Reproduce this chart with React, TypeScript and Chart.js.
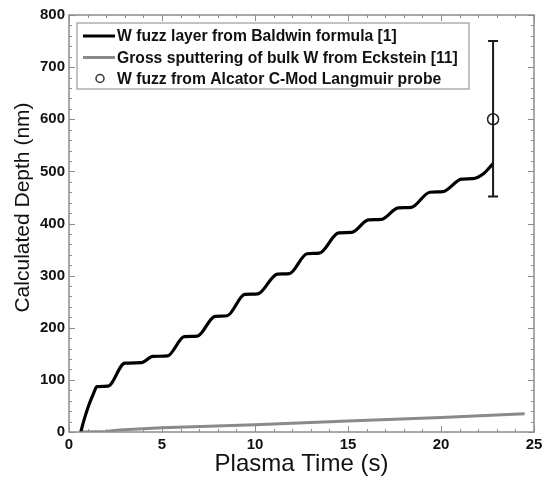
import React, { useEffect, useRef } from "react";
import { Chart, registerables } from "chart.js";

Chart.register(...registerables);

// ---- Data ----
const fuzzX = [0.63, 0.85, 1.05, 1.3, 1.5, 2.1, 3.0, 3.9, 4.5, 5.3, 6.2, 6.9, 7.85, 8.5, 9.45, 10.15, 11.2, 11.85, 12.8, 13.45, 14.5, 15.2, 16.1, 16.8, 17.7, 18.4, 19.4, 20.1, 21.1, 21.7, 22.3, 22.8];
const fuzzY = [0, 28, 50, 72, 87, 88, 132, 133, 145, 146, 183, 184, 222, 223, 264, 265, 303, 304, 342, 343, 382, 383, 407, 408, 430, 431, 460, 461, 485, 486, 496, 515];

const sputX = [0.6, 2.0, 2.7, 5, 10, 15, 20, 24.5];
const sputY = [0, 1, 4, 8, 14, 21, 28, 35];

const probeX = [22.8];
const probeY = [600];
const probeLow = [452];
const probeHigh = [750];

const seriesLabels = [
  "W fuzz layer from Baldwin formula [1]",
  "Gross sputtering of bulk W from Eckstein [11]",
  "W fuzz from Alcator C-Mod Langmuir probe",
];

const xTitle = "Plasma Time (s)";
const yTitle = "Calculated Depth (nm)";

const xTickValues = [0, 5, 10, 15, 20, 25];
const yTickValues = [0, 100, 200, 300, 400, 500, 600, 700, 800];
const xMinorStep = 1;
const yMinorStep = 20;

const FONT = "Liberation Sans, Arial, Helvetica, sans-serif";
const FRAME = "#8c8c8c";

const framePlugin = {
  id: "framePlugin",
  afterDatasetsDraw(chart: any) {
    const { ctx, chartArea: ca, scales } = chart;
    const xs = scales.x;
    const ys = scales.y;
    ctx.save();
    // error bars
    ctx.strokeStyle = "#1a1a1a";
    ctx.lineWidth = 2;
    for (let i = 0; i < probeX.length; i++) {
      const px = xs.getPixelForValue(probeX[i]);
      const lo = ys.getPixelForValue(probeLow[i]);
      const hi = ys.getPixelForValue(probeHigh[i]);
      ctx.beginPath();
      ctx.moveTo(px, lo);
      ctx.lineTo(px, hi);
      ctx.moveTo(px - 5, lo);
      ctx.lineTo(px + 5, lo);
      ctx.moveTo(px - 5, hi);
      ctx.lineTo(px + 5, hi);
      ctx.stroke();
    }
    // frame
    ctx.strokeStyle = FRAME;
    ctx.lineWidth = 1.5;
    ctx.strokeRect(ca.left, ca.top, ca.right - ca.left, ca.bottom - ca.top);
    ctx.lineWidth = 1;
    const xmin = xs.min, xmax = xs.max;
    for (let v = xmin; v <= xmax + 1e-9; v += xMinorStep) {
      const major = xTickValues.includes(Math.round(v));
      const len = major ? 6 : 3;
      const px = Math.round(xs.getPixelForValue(v)) + 0.5;
      ctx.beginPath();
      ctx.moveTo(px, ca.bottom);
      ctx.lineTo(px, ca.bottom - len);
      ctx.moveTo(px, ca.top);
      ctx.lineTo(px, ca.top + len);
      ctx.stroke();
    }
    const ymin = ys.min, ymax = ys.max;
    for (let v = ymin; v <= ymax + 1e-9; v += yMinorStep) {
      const major = yTickValues.includes(Math.round(v));
      const len = major ? 6 : 3;
      const py = Math.round(ys.getPixelForValue(v)) + 0.5;
      ctx.beginPath();
      ctx.moveTo(ca.left, py);
      ctx.lineTo(ca.left + len, py);
      ctx.moveTo(ca.right, py);
      ctx.lineTo(ca.right - len, py);
      ctx.stroke();
    }

    // y axis title
    ctx.save();
    ctx.translate(23, (ca.top + ca.bottom) / 2 - 16);
    ctx.rotate(-Math.PI / 2);
    ctx.font = `21px ${FONT}`;
    ctx.fillStyle = "#111";
    ctx.textAlign = "center";
    ctx.textBaseline = "middle";
    ctx.fillText(yTitle, 0, 0);
    ctx.restore();

    // legend box
    const lx = ca.left + 8;
    const ly = ca.top + 8;
    const lw = 392;
    const lh = 66;
    ctx.fillStyle = "#ffffff";
    ctx.fillRect(lx, ly, lw, lh);
    ctx.strokeStyle = "#9a9a9a";
    ctx.lineWidth = 1.2;
    ctx.strokeRect(lx, ly, lw, lh);
    ctx.font = `bold 15.7px ${FONT}`;
    ctx.textBaseline = "middle";
    ctx.textAlign = "left";
    const rowY = [ly + 13, ly + 34.5, ly + 55.5];
    const ds = chart.data.datasets;
    for (let i = 0; i < 3; i++) {
      const y = rowY[i];
      if (i < 2) {
        ctx.strokeStyle = ds[i].borderColor;
        ctx.lineWidth = 3;
        ctx.beginPath();
        ctx.moveTo(lx + 6, y);
        ctx.lineTo(lx + 38, y);
        ctx.stroke();
      } else {
        ctx.strokeStyle = "#333";
        ctx.lineWidth = 1.5;
        ctx.beginPath();
        ctx.arc(lx + 23, y, 4, 0, Math.PI * 2);
        ctx.stroke();
      }
      ctx.fillStyle = "#111";
      ctx.fillText(ds[i].label, lx + 40, y + 1);
    }
    ctx.restore();
  },
};

export default function App() {
  const ref = useRef<HTMLCanvasElement | null>(null);
  useEffect(() => {
    document.body.style.margin = "0";
    const canvas = ref.current;
    if (!canvas) return;
    const chart = new Chart(canvas, {
      type: "scatter",
      data: {
        datasets: [
          {
            label: seriesLabels[0],
            data: fuzzX.map((x, i) => ({ x, y: fuzzY[i] })),
            showLine: true,
            borderColor: "#000000",
            backgroundColor: "#000000",
            borderWidth: 3.2,
            pointRadius: 0,
            cubicInterpolationMode: "monotone",
          },
          {
            label: seriesLabels[1],
            data: sputX.map((x, i) => ({ x, y: sputY[i] })),
            showLine: true,
            borderColor: "#8a8a8a",
            backgroundColor: "#8a8a8a",
            borderWidth: 3,
            pointRadius: 0,
            tension: 0,
          },
          {
            label: seriesLabels[2],
            data: probeX.map((x, i) => ({ x, y: probeY[i] })),
            showLine: false,
            borderColor: "#222222",
            backgroundColor: "rgba(255,255,255,0)",
            borderWidth: 1.5,
            pointRadius: 5.5,
            pointStyle: "circle",
          },
        ],
      } as any,
      options: {
        animation: false,
        responsive: false,
        devicePixelRatio: 1,
        layout: { padding: { top: 15, right: 15, left: 0, bottom: 0 } },
        plugins: { legend: { display: false }, tooltip: { enabled: false } },
        scales: {
          x: {
            type: "linear",
            min: 0,
            max: 25,
            afterFit: (s: any) => {
              s.height = 55;
            },
            afterBuildTicks: (s: any) => {
              s.ticks = xTickValues.map((v) => ({ value: v }));
            },
            ticks: {
              padding: 4,
              color: "#111",
              font: { family: FONT, size: 15, weight: "bold" },
              maxRotation: 0,
              autoSkip: false,
            },
            grid: { display: false, drawTicks: false },
            border: { display: false },
            title: {
              display: true,
              text: xTitle,
              color: "#111",
              font: { family: FONT, size: 24 },
              padding: { top: 0, bottom: 8 },
            },
          },
          y: {
            type: "linear",
            min: 0,
            max: 800,
            afterFit: (s: any) => {
              s.width = 69;
            },
            afterBuildTicks: (s: any) => {
              s.ticks = yTickValues.map((v) => ({ value: v }));
            },
            ticks: {
              padding: 4,
              color: "#111",
              font: { family: FONT, size: 15, weight: "bold" },
              autoSkip: false,
            },
            grid: { display: false, drawTicks: false },
            border: { display: false },
            title: { display: false },
          },
        },
      } as any,
      plugins: [framePlugin],
    });
    return () => chart.destroy();
  }, []);
  return <canvas ref={ref} width={549} height={487} style={{ display: "block" }} />;
}
